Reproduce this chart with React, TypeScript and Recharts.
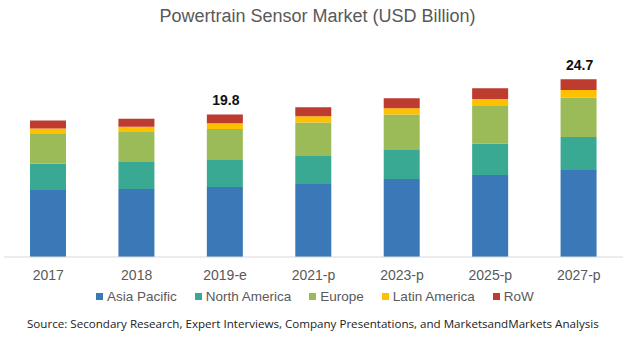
import React from "react";
import { BarChart, Bar, XAxis, YAxis, LabelList } from "recharts";

const categories = ["2017", "2018", "2019-e", "2021-p", "2023-p", "2025-p", "2027-p"];
const asiaPacific = [9.3, 9.44, 9.72, 10.14, 10.83, 11.39, 12.08];
const northAmerica = [3.7, 3.75, 3.75, 3.89, 4.03, 4.36, 4.58];
const europe = [4.07, 4.17, 4.31, 4.64, 4.92, 5.22, 5.45];
const latinAmerica = [0.79, 0.74, 0.79, 0.88, 0.88, 0.97, 1.07];
const row = [1.11, 1.11, 1.23, 1.25, 1.39, 1.49, 1.52];
const totalLabels = ["", "", "19.8", "", "", "", "24.7"];

const seriesNames = ["Asia Pacific", "North America", "Europe", "Latin America", "RoW"];
const seriesKeys = ["ap", "na", "eu", "la", "row"];
const colors = ["#3a78b8", "#3aa994", "#9bbb59", "#ffc000", "#bd3b2f"];

const data = categories.map((c, i) => ({
  cat: c,
  ap: asiaPacific[i],
  na: northAmerica[i],
  eu: europe[i],
  la: latinAmerica[i],
  row: row[i],
  label: totalLabels[i],
}));

const FONT = "'Liberation Sans', Arial, sans-serif";

const renderTotal = (props: any) => {
  const { x, y, width, value } = props;
  if (!value) return null;
  return (
    <text
      x={x + width / 2 + 1}
      y={y - 9}
      textAnchor="middle"
      fontFamily={FONT}
      fontWeight="bold"
      fontSize={14}
      fill="#111"
    >
      {value}
    </text>
  );
};

const LegendRow = () => (
  <div
    style={{
      position: "absolute",
      left: 96,
      top: 289,
      display: "flex",
      alignItems: "center",
      fontFamily: FONT,
      fontSize: 13.5,
      color: "#595959",
      whiteSpace: "nowrap",
    }}
  >
    {seriesNames.map((n, i) => (
      <div key={n} style={{ display: "flex", alignItems: "center", marginRight: 18 }}>
        <span
          style={{
            display: "inline-block",
            width: 7,
            height: 7,
            background: colors[i],
            marginRight: 4,
          }}
        />
        <span>{n}</span>
      </div>
    ))}
  </div>
);

export default function App() {
  return (
    <div
      style={{
        position: "absolute",
        left: 0,
        top: 0,
        width: 641,
        height: 348,
        background: "#fff",
        overflow: "hidden",
      }}
    >
      <div
        style={{
          position: "absolute",
          left: 0,
          width: 641,
          top: 6,
          textAlign: "center",
          fontFamily: FONT,
          fontSize: 18,
          color: "#595959",
        }}
      >
        <span style={{ position: "relative", left: -3 }}>Powertrain Sensor Market (USD Billion)</span>
      </div>
      <BarChart
        width={641}
        height={348}
        data={data}
        margin={{ top: 41, right: 18, bottom: 61, left: 4 }}
        barCategoryGap="60%"
      >
        <XAxis
          dataKey="cat"
          axisLine={{ stroke: "#d9d9d9" }}
          tickLine={false}
          tick={{ fill: "#595959", fontSize: 14, fontFamily: FONT }}
          tickMargin={7}
          interval={0}
        />
        <YAxis hide domain={[0, 30]} />
        {seriesKeys.map((k, i) => (
          <Bar
            key={k}
            dataKey={k}
            stackId="a"
            fill={colors[i]}
            barSize={36}
            isAnimationActive={false}
          >
            {k === "row" ? <LabelList dataKey="label" content={renderTotal} /> : null}
          </Bar>
        ))}
      </BarChart>
      <LegendRow />
      <div
        style={{
          position: "absolute",
          left: 27,
          top: 316,
          fontFamily: "'Open Sans', 'Noto Sans', sans-serif",
          fontSize: 11.6,
          color: "#222",
          whiteSpace: "nowrap",
        }}
      >
        Source: Secondary Research, Expert Interviews, Company Presentations, and MarketsandMarkets Analysis
      </div>
    </div>
  );
}
